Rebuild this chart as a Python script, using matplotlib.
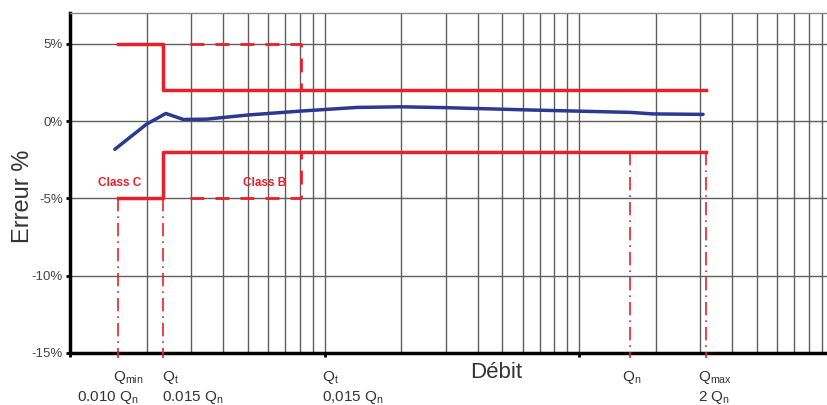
import matplotlib
matplotlib.use('Agg')
import matplotlib.pyplot as plt
from matplotlib.ticker import LogLocator, NullFormatter, FixedLocator

plt.rcParams['font.family'] = ['Liberation Sans', 'DejaVu Sans']
plt.rcParams['mathtext.fontset'] = 'custom'
plt.rcParams['mathtext.rm'] = 'Liberation Sans'

# flow points (log scale units)
q_min, q_t, q_n, q_max = 1.55, 2.32, 158, 316
classb_start, classb_end = 2.96, 8.1

# error limits (%)
mpe_low = 5      # zone basse
mpe_high = 2     # zone haute

# courbe d'erreur mesurée
flow = [1.50, 2.0, 2.38, 2.79, 3.44, 5.0, 8.0, 13.4, 20, 29, 66, 159, 195, 307]
err = [-1.82, -0.19, 0.50, 0.11, 0.13, 0.40, 0.65, 0.89, 0.93, 0.88, 0.72, 0.57, 0.47, 0.44]

yticks = [-15, -10, -5, 0, 5]
ytick_labels = ['-15%', '-10%', '-5%', '0%', '5%']

red = '#e8202a'
blue = '#2b3990'
txt = '#333333'

fig = plt.figure(figsize=(8.28, 4.05), dpi=100)
ax = fig.add_axes([70 / 828, 52 / 405, 758 / 828, 340 / 405])

ax.set_xscale('log')
ax.set_xlim(1.0, 951)
ax.set_ylim(-15, 7)

# grille
ax.xaxis.set_major_locator(FixedLocator([1, 10, 100]))
ax.xaxis.set_minor_locator(LogLocator(base=10, subs=range(2, 10)))
ax.xaxis.set_major_formatter(NullFormatter())
ax.xaxis.set_minor_formatter(NullFormatter())
ax.set_yticks(yticks)
ax.set_yticklabels(ytick_labels, fontsize=9.5, color='#444444')
ax.grid(which='both', axis='x', color='#5e5e5e', lw=1.0)
ax.grid(which='major', axis='y', color='#5e5e5e', lw=1.0)
ax.tick_params(axis='x', which='major', direction='out', length=3, width=2, color='black')
ax.tick_params(axis='x', which='minor', length=0)
ax.tick_params(axis='y', direction='out', length=3, width=2, color='black', pad=2)

for s in ['left', 'bottom']:
    ax.spines[s].set_linewidth(2.5)
    ax.spines[s].set_color('black')
ax.spines['right'].set_visible(False)
ax.spines['top'].set_color('#888888')
ax.spines['top'].set_linewidth(1.0)

# classe C (trait plein)
ax.plot([q_min, q_t, q_t, q_max], [mpe_low, mpe_low, mpe_high, mpe_high], color=red, lw=2.5, zorder=3)
ax.plot([q_min, q_t, q_t, q_max], [-mpe_low, -mpe_low, -mpe_high, -mpe_high], color=red, lw=2.5, zorder=3)

# classe B (tirets)
ax.plot([classb_start, classb_end, classb_end], [mpe_low, mpe_low, mpe_high], color=red, lw=2,
        dashes=(5, 4), zorder=3)
ax.plot([classb_start, classb_end, classb_end], [-mpe_low, -mpe_low, -mpe_high], color=red, lw=2,
        dashes=(5, 4), zorder=3)

# lignes verticales des débits
for q, top in [(q_min, -mpe_low), (q_t, -mpe_low), (q_n, -mpe_high), (q_max, -mpe_high)]:
    ax.plot([q, q], [top, -15.3], color=red, lw=1.2, dashes=(8, 3, 1, 3), clip_on=False, zorder=3)

# courbe mesurée
ax.plot(flow, err, color=blue, lw=2.5, solid_joinstyle='round', solid_capstyle='round', zorder=4)

ax.text(1.57, -4.0, 'Class C', color=red, fontsize=8.5, fontweight='bold',
        ha='center', va='center', zorder=5)
ax.text(5.8, -4.0, 'Class B', color=red, fontsize=8.5, fontweight='bold',
        ha='center', va='center', zorder=5)

ax.set_ylabel('Erreur %', fontsize=17, color=txt)
ax.yaxis.set_label_coords(-0.048, 0.462)

# étiquettes sous l'axe
labels = [
    (1.475, -25, r'Q$_\mathregular{min}$'),
    (1.065, -44, r'0.010 Q$_\mathregular{n}$'),
    (2.30, -25, r'Q$_\mathregular{t}$'),
    (2.30, -44, r'0.015 Q$_\mathregular{n}$'),
    (9.78, -25, r'Q$_\mathregular{t}$'),
    (9.78, -44, r'0,015 Q$_\mathregular{n}$'),
    (147.5, -25, r'Q$_\mathregular{n}$'),
    (293.6, -25, r'Q$_\mathregular{max}$'),
    (293.6, -44, r'2 Q$_\mathregular{n}$'),
]
for x, dy, s in labels:
    ax.annotate(s, xy=(x, 0), xycoords=('data', 'axes fraction'), xytext=(0, dy),
                textcoords='offset pixels', ha='left', va='center', fontsize=11, color=txt,
                annotation_clip=False)

ax.annotate('Débit', xy=(47.2, 0), xycoords=('data', 'axes fraction'), xytext=(0, -20),
            textcoords='offset pixels', ha='center', va='center', fontsize=16, color=txt,
            annotation_clip=False)

fig.savefig('out.png', dpi=100)
